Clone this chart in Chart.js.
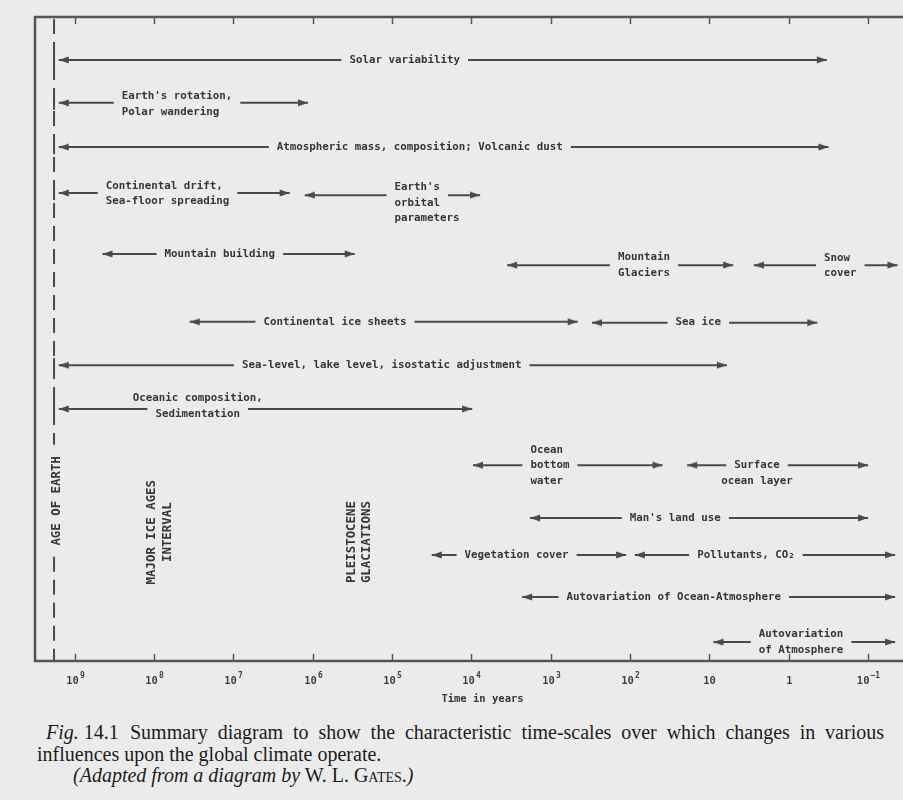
<!DOCTYPE html>
<html>
<head>
<meta charset="utf-8">
<script src="https://cdn.jsdelivr.net/npm/chart.js@4.4.0/dist/chart.umd.min.js"></script>
<style>
  html, body { margin: 0; padding: 0; width: 903px; height: 800px; overflow: hidden; background: #ebebeb; }
  #wrap { position: absolute; left: 0; top: 0; width: 940px; height: 711px; }
  #caption { position: absolute; left: 37px; top: 722px; width: 847px; font-family: "Liberation Serif", "Times New Roman", serif; font-size: 20px; line-height: 21.5px; color: #1c1c1c; }
  #caption .l1 { display: flex; }
  #caption .fig { width: 93px; padding-left: 9px; box-sizing: border-box; flex: none; }
  #caption .rest { flex: 1; text-align: justify; text-align-last: justify; }
  #caption .l3 { padding-left: 36px; }
  .sc { font-variant: small-caps; }
</style>
</head>
<body>
<div id="wrap"><canvas id="grafico" width="940" height="711"></canvas></div>
<div id="caption">
  <div class="l1"><span class="fig"><i>Fig.</i> 14.1</span><span class="rest">Summary diagram to show the characteristic time-scales over which changes in various</span></div>
  <div>influences upon the global climate operate.</div>
  <div class="l3"><i>(Adapted from a diagram by</i> W. L. G<span class="sc">ates</span>.<i>)</i></div>
</div>
<script>
// eje de tiempo: log10(años), de 10^9 a 10^-1
const tickExps = [9, 8, 7, 6, 5, 4, 3, 2, 1, 0, -1];
const tickBase = ["10", "10", "10", "10", "10", "10", "10", "10", "10", "1", "10"];
const tickPower = ["9", "8", "7", "6", "5", "4", "3", "2", "", "", "−1"];
const ageOfEarth = 9.26;

// cada influencia: texto, fila, desde y hasta (log10 años)
const names = [
  ["Solar variability"],
  ["Earth's rotation,", "Polar wandering"],
  ["Atmospheric mass, composition; Volcanic dust"],
  ["Continental drift,", "Sea-floor spreading"],
  ["Earth's", "orbital", "parameters"],
  ["Mountain building"],
  ["Mountain", "Glaciers"],
  ["Snow", "cover"],
  ["Continental ice sheets"],
  ["Sea ice"],
  ["Sea-level, lake level, isostatic adjustment"],
  ["Oceanic composition,", "Sedimentation"],
  ["Ocean", "bottom", "water"],
  ["Surface", "ocean layer"],
  ["Man's land use"],
  ["Vegetation cover"],
  ["Pollutants, CO₂"],
  ["Autovariation of Ocean-Atmosphere"],
  ["Autovariation", "of Atmosphere"],
];
const lanes = [1.0, 2.0, 3.03, 4.1, 4.15, 5.52, 5.78, 5.78, 7.1, 7.12, 8.11, 9.13, 10.44, 10.44, 11.67, 12.53, 12.53, 13.51, 14.56];
const spanFrom = [9.2, 9.2, 9.2, 9.2, 6.1, 8.65, 3.55, 0.44, 7.55, 2.48, 9.2, 9.2, 3.98, 1.28, 3.26, 4.5, 1.94, 3.36, 0.95];
const spanTo = [-0.48, 6.06, -0.5, 6.29, 3.89, 5.47, 0.7, -1.37, 2.66, -0.36, 0.78, 3.99, 1.59, -1.0, -1.0, 2.05, -1.34, -1.34, -1.34];

// donde va el texto de cada flecha
const labelAt = [4.84, 7.71, 4.65, 7.83, 4.56, 7.17, 1.825, -0.65, 5.72, 1.14, 5.13, 7.45, 3.01, 0.4, 1.43, 3.43, 0.54, 1.45, -0.155];
const labelAlign = ["center", "left", "center", "left", "left", "center", "left", "left", "center", "center", "center", "center", "left", "center", "center", "center", "center", "center", "center"];
const arrowLine = [0, 0.4, 0, 0.45, 0.5, 0, 0.5, 0.45, 0, 0, 0, 0.67, 1, 0, 0, 0, 0, 0, 0.5];

// textos verticales
const verticalNotes = [["AGE OF EARTH"], ["MAJOR ICE AGES", "INTERVAL"], ["PLEISTOCENE", "GLACIATIONS"]];
const verticalAt = [9.23, 7.93, 5.41];
const verticalLane = [11.27, 12.0, 12.23];

const bg = "#ebebeb";
const ink = "#4a4a4a";
const textColor = "#363636";
const labelFont = "bold 10.8px 'DejaVu Sans Mono'";
const LH = 15.5;

// punta de flecha (apunta a la izquierda, punta en el centro)
const arrowImg = document.createElement("canvas");
arrowImg.width = 22;
arrowImg.height = 8;
const a = arrowImg.getContext("2d");
a.fillStyle = ink;
a.beginPath();
a.moveTo(11, 4);
a.lineTo(21, 0.6);
a.lineTo(21, 7.4);
a.closePath();
a.fill();

const datasets = names.map((n, i) => ({
  data: [{ x: spanFrom[i], y: lanes[i] }, { x: spanTo[i], y: lanes[i] }],
  showLine: true,
  borderColor: ink,
  borderWidth: 2,
  pointStyle: arrowImg,
  pointRadius: 3,
  pointRotation: (c) => (c.dataIndex === 0 ? 0 : 180),
}));

const diagram = {
  id: "diagram",
  beforeDatasetsDraw(chart) {
    const { ctx, chartArea: ca, scales: { x, y } } = chart;
    ctx.save();
    ctx.strokeStyle = "#555";
    ctx.lineWidth = 2.5;
    ctx.strokeRect(ca.left, ca.top, ca.right - ca.left, ca.bottom - ca.top);
    ctx.lineWidth = 1.5;
    ctx.fillStyle = "#404040";
    ctx.textBaseline = "alphabetic";
    tickExps.forEach((t, i) => {
      const px = Math.round(x.getPixelForValue(t)) + 0.5;
      ctx.beginPath();
      ctx.moveTo(px, ca.top);
      ctx.lineTo(px, ca.top + 7);
      ctx.moveTo(px, ca.bottom);
      ctx.lineTo(px, ca.bottom - 7);
      ctx.stroke();
      // etiqueta 10 con exponente
      ctx.font = "bold 10.5px 'DejaVu Sans Mono'";
      const wb = ctx.measureText(tickBase[i]).width;
      ctx.font = "bold 8px 'DejaVu Sans Mono'";
      const wp = tickPower[i] ? ctx.measureText(tickPower[i]).width + 1 : 0;
      const x0 = px - (wb + wp) / 2;
      ctx.font = "bold 10.5px 'DejaVu Sans Mono'";
      ctx.fillText(tickBase[i], x0, ca.bottom + 23);
      if (tickPower[i]) {
        ctx.font = "bold 8px 'DejaVu Sans Mono'";
        ctx.fillText(tickPower[i], x0 + wb + 1, ca.bottom + 17);
      }
    });
    // linea de la edad de la tierra, cortada por su texto
    const ax = x.getPixelForValue(ageOfEarth);
    const gy = y.getPixelForValue(verticalLane[0]);
    ctx.strokeStyle = ink;
    ctx.lineWidth = 2;
    ctx.setLineDash([15, 8]);
    ctx.beginPath();
    ctx.moveTo(ax, ca.top + 2);
    ctx.lineTo(ax, gy - 56);
    ctx.moveTo(ax, gy + 56);
    ctx.lineTo(ax, ca.bottom);
    ctx.stroke();
    ctx.setLineDash([]);
    names.forEach((n, i) => {
      if (spanFrom[i] >= 9.2) {
        const py = y.getPixelForValue(lanes[i]);
        ctx.beginPath();
        ctx.moveTo(ax, py - 7);
        ctx.lineTo(ax, py + 7);
        ctx.stroke();
      }
    });
    // textos verticales
    ctx.fillStyle = textColor;
    ctx.font = "bold 12.4px 'DejaVu Sans Mono'";
    ctx.textAlign = "center";
    ctx.textBaseline = "middle";
    verticalNotes.forEach((lines, i) => {
      const cx = x.getPixelForValue(verticalAt[i]);
      const cy = y.getPixelForValue(verticalLane[i]);
      ctx.save();
      ctx.translate(cx, cy);
      ctx.rotate(-Math.PI / 2);
      lines.forEach((t, j) => {
        ctx.fillText(t, 0, (j - (lines.length - 1) / 2) * 15.5);
      });
      ctx.restore();
    });
    ctx.restore();
  },
  afterDatasetsDraw(chart) {
    const { ctx, scales: { x, y } } = chart;
    ctx.save();
    ctx.font = labelFont;
    ctx.textBaseline = "middle";
    ctx.textAlign = "left";
    names.forEach((lines, i) => {
      const cx = x.getPixelForValue(labelAt[i]);
      const cy = y.getPixelForValue(lanes[i]);
      const widths = lines.map((t) => ctx.measureText(t).width);
      const blockW = Math.max(...widths);
      const left = cx - blockW / 2;
      let kw = 0;
      lines.forEach((t, j) => {
        if (Math.abs(j - arrowLine[i]) <= 0.6) kw = Math.max(kw, widths[j]);
      });
      const kLeft = labelAlign[i] === "left" ? left : cx - kw / 2;
      ctx.fillStyle = bg;
      ctx.fillRect(kLeft - 8, cy - 4, kw + 16, 8);
      ctx.fillStyle = textColor;
      lines.forEach((t, j) => {
        const ty = cy + (j - arrowLine[i]) * LH;
        const tx = labelAlign[i] === "left" ? left : cx - widths[j] / 2;
        ctx.fillText(t, tx, ty);
      });
    });
    ctx.restore();
  },
};

const grafico = document.getElementById("grafico").getContext("2d");
const myChart = new Chart(grafico, {
  type: "scatter",
  data: { datasets },
  options: {
    responsive: false,
    animation: false,
    events: [],
    devicePixelRatio: 1,
    layout: { padding: { left: 35, top: 17, right: 10, bottom: 0 } },
    scales: {
      x: {
        type: "linear",
        reverse: true,
        min: -1.78,
        max: 9.5,
        afterBuildTicks: (scale) => {
          scale.ticks = tickExps.map((v) => ({ value: v }));
        },
        afterFit: (scale) => {
          scale.height = 50;
        },
        ticks: { display: false },
        grid: { display: false },
        border: { display: false },
        title: {
          display: true,
          text: "Time in years",
          color: "#363636",
          font: { family: "DejaVu Sans Mono", size: 10.5, weight: "bold" },
          padding: { top: 3, bottom: 5 },
        },
      },
      y: { display: false, min: 0, max: 15, reverse: true },
    },
    plugins: { legend: { display: false }, tooltip: { enabled: false } },
  },
  plugins: [diagram],
});
</script>
</body>
</html>
